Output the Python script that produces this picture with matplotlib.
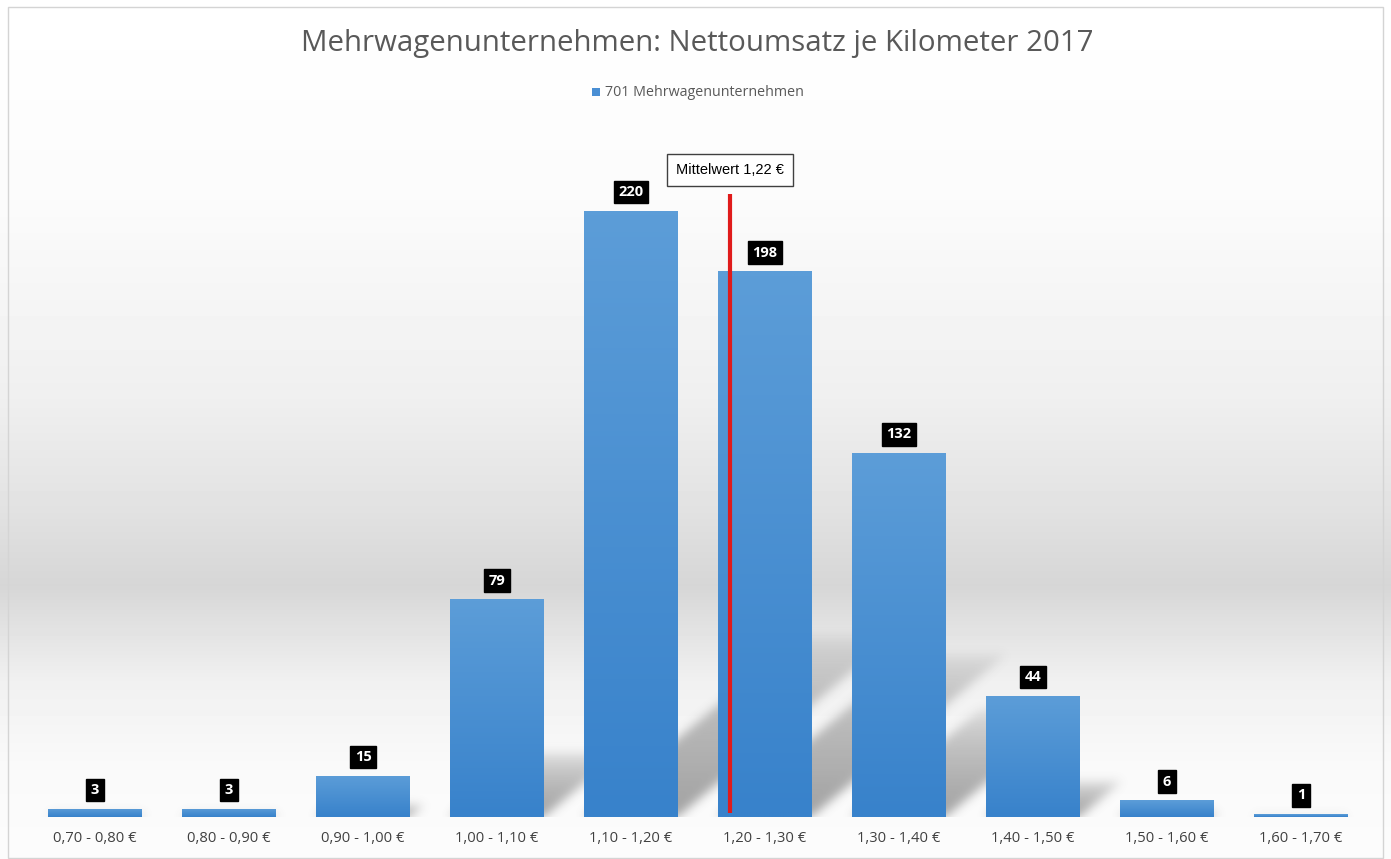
import numpy as np
import matplotlib
matplotlib.use('Agg')
import matplotlib.pyplot as plt
from matplotlib.patches import Rectangle

# data
categories = ['0,70 - 0,80 €', '0,80 - 0,90 €', '0,90 - 1,00 €', '1,00 - 1,10 €',
              '1,10 - 1,20 €', '1,20 - 1,30 €', '1,30 - 1,40 €', '1,40 - 1,50 €',
              '1,50 - 1,60 €', '1,60 - 1,70 €']
bin_start = [0.70, 0.80, 0.90, 1.00, 1.10, 1.20, 1.30, 1.40, 1.50, 1.60]
counts = [3, 3, 15, 79, 220, 198, 132, 44, 6, 1]
mean_value = 1.22
mean_line_top = 226
title = 'Mehrwagenunternehmen: Nettoumsatz je Kilometer 2017'
series_name = '701 Mehrwagenunternehmen'

W, H = 1391, 859
fig = plt.figure(figsize=(W / 100, H / 100), dpi=100)
fig.patch.set_facecolor('white')

# background gradient (white -> grey band -> white)
bg = fig.add_axes([0, 0, 1, 1], zorder=-5)
ys = np.arange(H)
grey = np.interp(ys, [0, 200, 400, 500, 585, 620, 680, 760, 859],
                 [255, 251, 239, 227, 214, 224, 240, 249, 252]) / 255.0
img = np.repeat(grey[:, None], 10, axis=1)
bg.imshow(img, cmap='gray', vmin=0, vmax=1, aspect='auto', extent=(0, W, H, 0))
bg.set_xlim(0, W)
bg.set_ylim(H, 0)
bg.axis('off')
bg.add_patch(Rectangle((8, 7), W - 16, H - 8, fill=False, edgecolor='#d4d4d4', linewidth=1))

ax = fig.add_axes([28 / W, 42 / H, 1340 / W, 689 / H])
ax.patch.set_alpha(0)
x = np.arange(len(counts))
bars = ax.bar(x, counts, width=0.70, color='#4a8fd4', zorder=3)
XMIN, XMAX, YMAX = -0.5, len(counts) - 0.5, 250

# soft perspective shadows behind the bars
nx, ny = 1340, 689
gx = np.linspace(XMIN, XMAX, nx)
gy = np.linspace(0, YMAX, ny)
GX, GY = np.meshgrid(gx, gy)
shadow = np.zeros_like(GX)
px_per_unit = ny / YMAX
cat_px = nx / len(counts)
for b, h in zip(bars, counts):
    x0, x1 = b.get_x(), b.get_x() + b.get_width()
    dx = 0.36 * h * px_per_unit / cat_px
    dy = 0.30 * h
    t = GY / dy
    shift = t * dx
    inside = (t >= 0) & (t <= 1) & (GX >= x0 + shift) & (GX <= x1 + shift)
    val = np.where(inside, 0.55 * (1 - np.clip(t, 0, 1)) ** 0.45, 0)
    shadow = np.maximum(shadow, val)
# gaussian blur, separable
k = np.exp(-0.5 * (np.arange(-15, 16) / 5.0) ** 2)
k /= k.sum()
shadow = np.apply_along_axis(lambda r: np.convolve(r, k, mode='same'), 1, shadow)
shadow = np.apply_along_axis(lambda c: np.convolve(c, k, mode='same'), 0, shadow)
rgba = np.zeros((ny, nx, 4))
rgba[..., :3] = 0.35
rgba[..., 3] = shadow
ax.imshow(rgba, extent=(XMIN, XMAX, 0, YMAX), origin='lower', aspect='auto',
          zorder=1, interpolation='bilinear')

# gradient fill of bars
top = np.array([0x5c, 0x9d, 0xd8]) / 255
bot = np.array([0x38, 0x82, 0xcb]) / 255
tt = np.linspace(0, 1, 60)[:, None]
grad = (top * (1 - tt) + bot * tt)[:, None, :].repeat(2, axis=1)
for b, h in zip(bars, counts):
    x0, x1 = b.get_x(), b.get_x() + b.get_width()
    im = ax.imshow(grad, extent=(x0, x1, 0, h), aspect='auto', zorder=4,
                   interpolation='bilinear', origin='upper')
    im.set_clip_path(b)
ax.set_xlim(XMIN, XMAX)
ax.set_ylim(0, YMAX)

# data labels
for i, v in enumerate(counts):
    ax.annotate(str(v), (i, v), xytext=(0, 13.5), textcoords='offset points',
                ha='center', va='center', color='white', fontsize=10.5,
                fontweight='bold', family='Open Sans', zorder=6,
                bbox=dict(boxstyle='square,pad=0.3', facecolor='black', edgecolor='black'))

# mean line
mx = (mean_value - bin_start[0] - 0.05) / 0.1 + 0.04
ax.plot([mx, mx], [1.5, mean_line_top], color='#e01b1b', linewidth=3, zorder=5,
        solid_capstyle='butt')
ax.annotate('Mittelwert ' + f'{mean_value:.2f}'.replace('.', ',') + ' €',
            (mx, mean_line_top), xytext=(0, 17.5), textcoords='offset points',
            ha='center', va='center', fontsize=10.5, family='Liberation Sans',
            color='black', zorder=6,
            bbox=dict(boxstyle='square,pad=0.6', facecolor='white', edgecolor='#404040',
                      linewidth=1))

ax.set_xticks(x)
ax.set_xticklabels(categories, fontsize=10.6, family='Open Sans', color='#404040')
ax.tick_params(axis='x', length=0, pad=10)
ax.set_yticks([])
for s in ax.spines.values():
    s.set_visible(False)

fig.text(697 / W, 1 - 44 / H, title, ha='center', va='center', fontsize=21.2,
         family='Open Sans', color='#595959')
fig.text(605 / W, 1 - 92 / H, series_name, ha='left', va='center', fontsize=10.3,
         family='Open Sans', color='#595959')
fig.patches.append(Rectangle((592 / W, 1 - 96 / H), 8 / W, 8 / H, transform=fig.transFigure,
                             facecolor='#4a8fd4', edgecolor='none', figure=fig))

fig.savefig('out.png', dpi=100)
